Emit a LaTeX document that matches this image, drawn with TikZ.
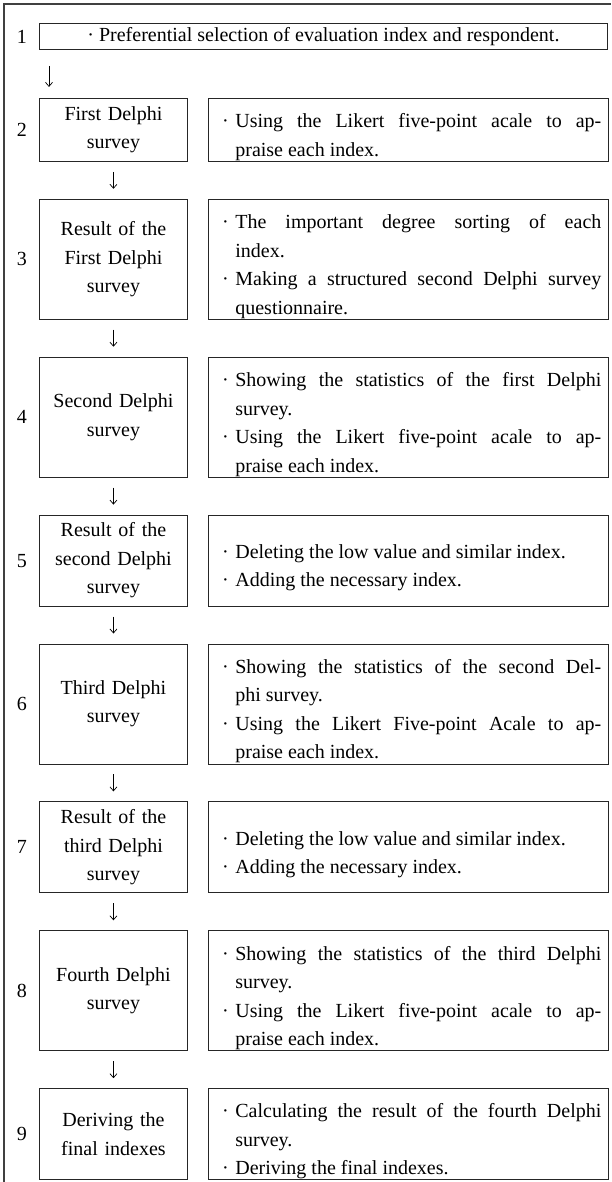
\documentclass[tikz,border=0pt]{standalone}
\usepackage{fontspec}
\setmainfont{Liberation Serif}
\usetikzlibrary{
  arrows.meta,
  positioning
}
\newlength{\bulw}
\setlength{\bulw}{20pt}
\newcommand{\dotitem}[1]{\par\noindent\hangindent=\bulw\hangafter=1\makebox[\bulw][c]{·}#1\par}
\tikzset{
  frameline/.style={line width=1.6pt,draw=black!75},
  wide/.style={draw=black!85,line width=0.9pt,minimum width=568pt,minimum height=26pt,inner sep=0pt,font=\fontsize{20}{28.5}\selectfont},
  stage/.style={draw=black!85,line width=0.9pt,minimum width=148pt,text width=140pt,align=center,inner sep=0pt,font=\fontsize{20}{28.5}\selectfont},
  detail/.style={draw=black!85,line width=0.9pt,minimum width=400pt,text width=386pt,inner xsep=7pt,inner ysep=0pt,align=justify,font=\fontsize{20}{28.5}\selectfont,execute at begin node={\spaceskip=5pt plus 30pt minus 1pt\hyphenpenalty=10000\exhyphenpenalty=10000}},
  num/.style={inner sep=0pt,font=\fontsize{20}{28.5}\selectfont},
  flow/.style={-{Straight Barb[length=4pt,width=7pt]},line width=0.7pt,shorten <=10pt,shorten >=10pt}
}

\begin{document}
\begin{tikzpicture}[node distance=37pt]
\useasboundingbox (0,0) rectangle (611pt,-1182pt);
\draw[frameline] (4pt,-1182pt) |- (611pt,-4pt);

\node[wide,anchor=north west] (s1) at (39pt,-23pt) {·\hspace{5pt}Preferential selection of evaluation index and respondent.};
\node[num,left=12pt of s1] (n1) {1};

\node[stage,minimum height=63pt,below=48pt of s1.south west,anchor=north west] (s2) {First Delphi\\survey};
\node[detail,minimum height=63pt,right=20pt of s2] (d2) {\dotitem{Using the Likert five-point acale to ap-\linebreak praise each index.}};
\node[num,left=12pt of s2] (n2) {2};

\node[stage,minimum height=120pt,below=of s2] (s3) {Result of the\\First Delphi\\survey};
\node[detail,minimum height=120pt,right=20pt of s3] (d3) {\dotitem{The important degree sorting of each\linebreak index.}\dotitem{Making a structured second Delphi survey\linebreak questionnaire.}};
\node[num,left=12pt of s3] (n3) {3};

\node[stage,minimum height=120pt,below=of s3] (s4) {Second Delphi\\survey};
\node[detail,minimum height=120pt,right=20pt of s4] (d4) {\dotitem{Showing the statistics of the first Delphi\linebreak survey.}\dotitem{Using the Likert five-point acale to ap-\linebreak praise each index.}};
\node[num,left=12pt of s4] (n4) {4};

\node[stage,minimum height=91pt,below=of s4] (s5) {Result of the\\second Delphi\\survey};
\node[detail,minimum height=91pt,right=20pt of s5] (d5) {\dotitem{Deleting the low value and similar index.}\dotitem{Adding the necessary index.}};
\node[num,left=12pt of s5] (n5) {5};

\node[stage,minimum height=120pt,below=of s5] (s6) {Third Delphi\\survey};
\node[detail,minimum height=120pt,right=20pt of s6] (d6) {\dotitem{Showing the statistics of the second Del-\linebreak phi survey.}\dotitem{Using the Likert Five-point Acale to ap-\linebreak praise each index.}};
\node[num,left=12pt of s6] (n6) {6};

\node[stage,minimum height=91pt,below=of s6] (s7) {Result of the\\third Delphi\\survey};
\node[detail,minimum height=91pt,right=20pt of s7] (d7) {\dotitem{Deleting the low value and similar index.}\dotitem{Adding the necessary index.}};
\node[num,left=12pt of s7] (n7) {7};

\node[stage,minimum height=120pt,below=of s7] (s8) {Fourth Delphi\\survey};
\node[detail,minimum height=120pt,right=20pt of s8] (d8) {\dotitem{Showing the statistics of the third Delphi\linebreak survey.}\dotitem{Using the Likert five-point acale to ap-\linebreak praise each index.}};
\node[num,left=12pt of s8] (n8) {8};

\node[stage,minimum height=91pt,below=of s8] (s9) {Deriving the\\final indexes};
\node[detail,minimum height=91pt,right=20pt of s9] (d9) {\dotitem{Calculating the result of the fourth Delphi\linebreak survey.}\dotitem{Deriving the final indexes.}};
\node[num,left=12pt of s9] (n9) {9};

\draw[flow,shorten <=16pt,shorten >=11pt] ([xshift=10pt]s1.south west) -- ([xshift=10pt]s1.south west |- s2.north);
\draw[flow] (s2) -- (s3);
\draw[flow] (s3) -- (s4);
\draw[flow] (s4) -- (s5);
\draw[flow] (s5) -- (s6);
\draw[flow] (s6) -- (s7);
\draw[flow] (s7) -- (s8);
\draw[flow] (s8) -- (s9);
\end{tikzpicture}
\end{document}
